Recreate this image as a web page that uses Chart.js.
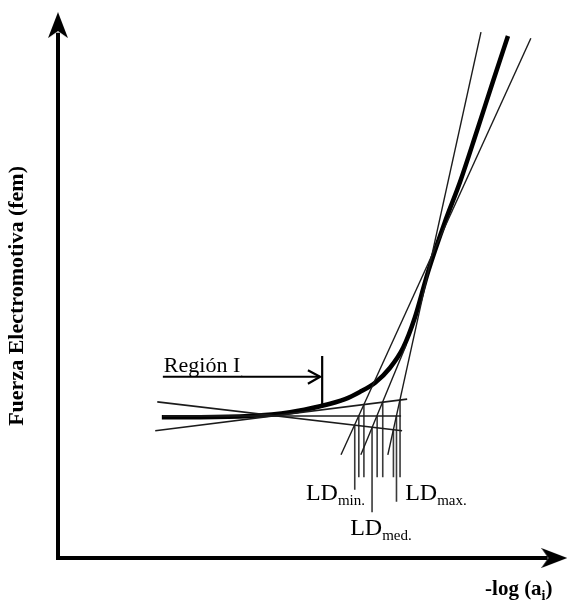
<!DOCTYPE html>
<html>
<head>
<meta charset="utf-8">
<script src="https://cdn.jsdelivr.net/npm/chart.js@4.4.1/dist/chart.umd.min.js"></script>
<style>
  html, body { margin: 0; padding: 0; background: #fff; overflow: hidden; }
  #chart { display: block; }
</style>
</head>
<body>
<canvas id="chart" width="569" height="605"></canvas>
<script>
  // Schematic units: x = -log(a_i), y = fem, both 0..10 (no numeric ticks in the original)

  // measured response curve (thick)
  const curveX = [2.04, 2.79, 3.77, 4.56, 5.15, 5.64, 5.93, 6.23, 6.52, 6.78, 7.01, 7.27, 7.60, 7.90, 8.23, 8.55, 8.84];
  const curveY = [2.58, 2.58, 2.60, 2.67, 2.78, 2.91, 3.04, 3.21, 3.48, 3.85, 4.40, 5.24, 6.15, 6.89, 7.82, 8.74, 9.56];

  // extrapolated lines of the linear (Nernstian) part: [top, bottom]
  const steepX = [[8.31, 6.48], [9.29, 5.56], [6.84, 5.95]];
  const steepY = [[9.63, 1.89], [9.52, 1.89], [3.90, 1.89]];

  // extrapolated lines of the flat part (Región I): rising, flat, falling
  const flatX = [[1.91, 6.86], [2.06, 6.74], [1.95, 6.76]];
  const flatY = [[2.33, 2.91], [2.60, 2.60], [2.86, 2.33]];

  // intersection drop lines (LD candidates)
  const dropX = [5.83, 5.91, 6.01, 6.17, 6.27, 6.38, 6.59, 6.65, 6.72];
  const dropTop = [2.43, 2.60, 2.81, 2.39, 2.60, 2.86, 2.34, 2.60, 2.89];
  const dropBottom = [1.25, 1.48, 1.48, 0.84, 1.48, 1.48, 1.48, 1.03, 1.48];

  // "Región I" marker: arrow shaft, head, end bar
  const regionArrowX = [2.06, 5.15];
  const regionArrowY = [3.32, 3.32];
  const regionHeadX = [4.91, 5.15, 4.91];
  const regionHeadY = [3.44, 3.32, 3.19];
  const regionBarX = [5.19, 5.19];
  const regionBarY = [3.70, 2.80];

  // axes
  const axisX = [0, 0, 9.62];
  const axisY = [9.62, 0, 0];

  const SERIF = '"Liberation Serif", "Times New Roman", serif';

  function pts(xs, ys) {
    return xs.map((x, i) => ({ x, y: ys[i] }));
  }

  function line(xs, ys, width, color, extra) {
    return Object.assign({
      data: pts(xs, ys), showLine: true, borderColor: color, borderWidth: width,
      pointRadius: 0, clip: false, tension: 0,
    }, extra || {});
  }

  // dart-shaped arrow head glyph used as point style
  function arrowGlyph() {
    const cv = document.createElement("canvas");
    cv.width = 22; cv.height = 26;
    const g = cv.getContext("2d");
    g.fillStyle = "#000";
    g.beginPath();
    g.moveTo(11, 0); g.lineTo(21, 26); g.lineTo(11, 19); g.lineTo(1, 26);
    g.closePath(); g.fill();
    return cv;
  }
  const arrow = arrowGlyph();

  const datasets = [];
  datasets.push(line(axisX, axisY, 4, "#000", { borderJoinStyle: "miter", borderCapStyle: "butt" }));
  datasets.push({ data: [{ x: 0, y: 9.76 }], pointStyle: arrow, rotation: 0, pointRadius: 10, clip: false });
  datasets.push({ data: [{ x: 9.75, y: 0 }], pointStyle: arrow, rotation: 90, pointRadius: 10, clip: false });

  steepX.forEach((xs, i) => datasets.push(line(xs, steepY[i], 1.4, "#1b1b1b")));
  flatX.forEach((xs, i) => datasets.push(line(xs, flatY[i], 1.6, "#1b1b1b")));
  dropX.forEach((x, i) => datasets.push(line([x, x], [dropTop[i], dropBottom[i]], 1.6, "#3a3a3a")));

  datasets.push(line(curveX, curveY, 4.5, "#000", { cubicInterpolationMode: "monotone", borderCapStyle: "butt" }));

  datasets.push(line(regionArrowX, regionArrowY, 2.2, "#000"));
  datasets.push(line(regionHeadX, regionHeadY, 2.2, "#000", { borderJoinStyle: "miter" }));
  datasets.push(line(regionBarX, regionBarY, 2.2, "#000"));

  // text labels anchored in data units
  const labels = [
    { text: "Región I", sub: ".", x: 2.08, y: 3.41, size: 22, subSize: 12, bold: false },
    { text: "LD", sub: "min.", x: 4.87, y: 1.06, size: 24, subSize: 15, bold: false },
    { text: "LD", sub: "max.", x: 6.82, y: 1.06, size: 24, subSize: 15, bold: false },
    { text: "LD", sub: "med.", x: 5.74, y: 0.42, size: 24, subSize: 15, bold: false },
    { text: "-log (a", sub: "i", after: ")", x: 8.39, y: -0.68, size: 21, subSize: 14, bold: true },
  ];

  const textPlugin = {
    id: "schematicText",
    afterDatasetsDraw(chart) {
      const { ctx, scales } = chart;
      ctx.save();
      ctx.fillStyle = "#000";
      ctx.textBaseline = "alphabetic";
      ctx.textAlign = "left";
      labels.forEach((l) => {
        let px = scales.x.getPixelForValue(l.x);
        const py = scales.y.getPixelForValue(l.y);
        const w = l.bold ? "bold " : "";
        ctx.font = `${w}${l.size}px ${SERIF}`;
        ctx.fillText(l.text, px, py);
        px += ctx.measureText(l.text).width;
        ctx.font = `${w}${l.subSize}px ${SERIF}`;
        ctx.fillText(l.sub, px, py + 5);
        px += ctx.measureText(l.sub).width;
        if (l.after) {
          ctx.font = `${w}${l.size}px ${SERIF}`;
          ctx.fillText(l.after, px, py);
        }
      });
      // y axis title
      const cx = scales.x.getPixelForValue(-0.8);
      const cy = scales.y.getPixelForValue(4.8);
      ctx.translate(cx, cy);
      ctx.rotate(-Math.PI / 2);
      ctx.textAlign = "center";
      ctx.textBaseline = "middle";
      ctx.font = `bold 22px ${SERIF}`;
      ctx.fillText("Fuerza Electromotiva (fem)", 0, 0);
      ctx.restore();
    },
  };

  new Chart(document.getElementById("chart"), {
    type: "scatter",
    data: { datasets },
    options: {
      responsive: false,
      animation: false,
      events: [],
      layout: { autoPadding: false, padding: { left: 58, right: 2, top: 12, bottom: 47 } },
      plugins: { legend: { display: false }, tooltip: { enabled: false } },
      scales: {
        x: { type: "linear", min: 0, max: 10, display: false },
        y: { type: "linear", min: 0, max: 10, display: false },
      },
    },
    plugins: [textPlugin],
  });
</script>
</body>
</html>
